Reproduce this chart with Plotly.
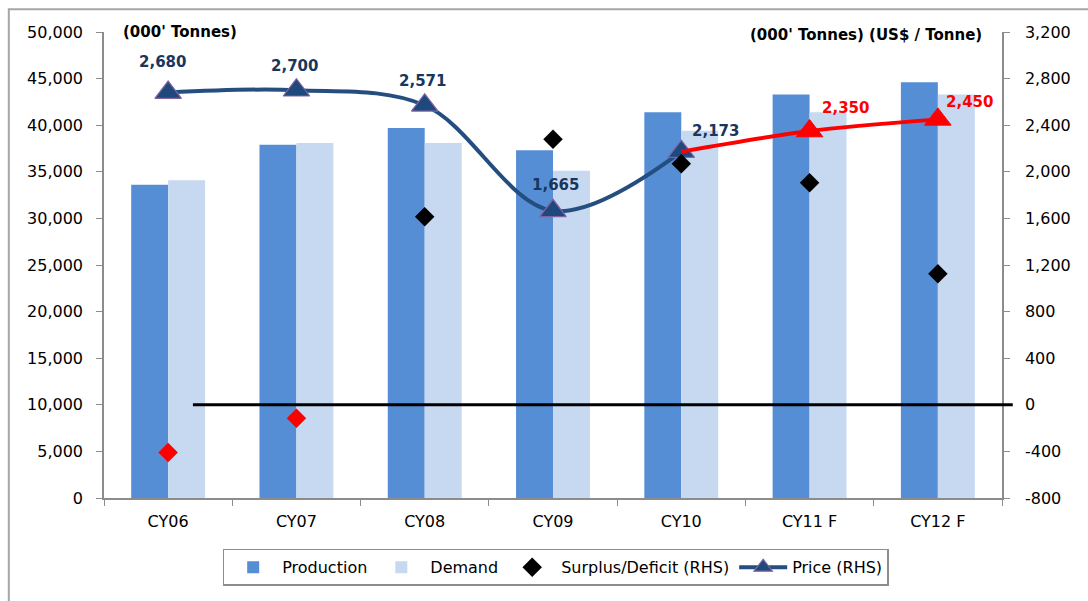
import plotly.graph_objects as go

categories = ["CY06", "CY07", "CY08", "CY09", "CY10", "CY11 F", "CY12 F"]
production = [33600, 37900, 39700, 37300, 41400, 43300, 44600]
demand = [34100, 38100, 38100, 35100, 39400, 41400, 43300]
surplus = [-410, -115, 1615, 2280, 2070, 1905, 1125]
price = [2680, 2700, 2571, 1665, 2173, 2350, 2450]
n_actual = 5  # CY06..CY10 actual prices, rest forecast
right_ticks = [-800, -400, 0, 400, 800, 1200, 1600, 2000, 2400, 2800, 3200]
right_tick_labels = ["-800", "-400", "0", "400", "800", "1,200", "1,600", "2,000", "2,400", "2,800", "3,200"]

FONT = "DejaVu Sans"
BLUE_LINE = "#244D80"
LABEL_BLUE = "#17375E"
RED = "#FF0000"

fig = go.Figure()

fig.add_trace(go.Bar(x=categories, y=production, name="Production",
                     marker=dict(color="#558ED5", line=dict(width=0)), legendrank=1))
fig.add_trace(go.Bar(x=categories, y=demand, name="Demand",
                     marker=dict(color="#C6D9F1", line=dict(width=0)), legendrank=2))

# price line: actual (blue) and forecast (red)
fig.add_trace(go.Scatter(
    x=categories[:n_actual], y=price[:n_actual], yaxis="y2", name="Price (RHS)",
    mode="lines+markers", line=dict(color=BLUE_LINE, width=4, shape="spline", smoothing=1.0),
    marker=dict(symbol="triangle-up", size=23, color="#1F497D", line=dict(color="#8064A2", width=1.2)),
    legendrank=4))
fig.add_trace(go.Scatter(
    x=categories[n_actual - 1:], y=price[n_actual - 1:], yaxis="y2", showlegend=False,
    mode="lines", line=dict(color=RED, width=4, shape="spline", smoothing=0.8)))
fig.add_trace(go.Scatter(
    x=categories[n_actual:], y=price[n_actual:], yaxis="y2", showlegend=False,
    mode="markers", marker=dict(symbol="triangle-up", size=23, color=RED, line=dict(color=RED, width=1))))

# surplus / deficit diamonds
pos_x = [c for c, v in zip(categories, surplus) if v >= 0]
pos_y = [v for v in surplus if v >= 0]
neg_x = [c for c, v in zip(categories, surplus) if v < 0]
neg_y = [v for v in surplus if v < 0]
fig.add_trace(go.Scatter(x=pos_x, y=pos_y, yaxis="y2", mode="markers", name="Surplus/Deficit (RHS)",
                         marker=dict(symbol="diamond", size=15, color="black"), legendrank=3))
fig.add_trace(go.Scatter(x=neg_x, y=neg_y, yaxis="y2", mode="markers", showlegend=False,
                         marker=dict(symbol="diamond", size=15, color=RED)))

# price data labels
label_offsets = [(-6, 31), (-2, 24), (-2, 24), (2, 26), (34, 21), (36, 23), (32, 17)]
annotations = []
for i, (c, p) in enumerate(zip(categories, price)):
    dx, dy = label_offsets[i]
    annotations.append(dict(
        x=c, y=p, xref="x", yref="y2", text=f"{p:,}", showarrow=False,
        xshift=dx, yshift=dy,
        font=dict(family=FONT, size=15, color=LABEL_BLUE if i < n_actual else RED, weight="bold")))

annotations.append(dict(x=0.019, y=1.0, xref="paper", yref="paper", xanchor="left", yanchor="middle",
                        text="<b>(000' Tonnes)</b>", showarrow=False,
                        font=dict(family=FONT, size=15, color="black")))
annotations.append(dict(x=0.98, y=0.994, xref="paper", yref="paper", xanchor="right", yanchor="middle",
                        text="<b>(000' Tonnes) (US$ / Tonne)</b>", showarrow=False,
                        font=dict(family=FONT, size=15, color="black")))

shapes = [
    # zero line for surplus/deficit
    dict(type="line", xref="paper", yref="y2", x0=0.099, x1=1.012, y0=0, y1=0,
         line=dict(color="black", width=3), layer="above"),
    # outer chart border
    dict(type="rect", xref="paper", yref="paper", x0=-0.106, x1=1.12, y0=-0.24, y1=1.049,
         line=dict(color="#A6A6A6", width=2), layer="below"),
]

axis_common = dict(showline=True, linecolor="#8C8C8C", linewidth=1.5, ticks="outside",
                   tickcolor="#8C8C8C", ticklen=6, showgrid=False, zeroline=False,
                   tickfont=dict(family=FONT, size=16, color="black"))

fig.update_layout(
    width=1088, height=601,
    margin=dict(l=104, r=86, t=32, b=103),
    paper_bgcolor="white", plot_bgcolor="white",
    barmode="group", bargap=0.424, bargroupgap=0,
    showlegend=True,
    legend=dict(orientation="h", x=0.503, xanchor="center", y=-0.109, yanchor="top",
                bordercolor="#8C8C8C", borderwidth=1.5, bgcolor="white",
                font=dict(family=FONT, size=16, color="black"),
                traceorder="normal", itemwidth=48),
    xaxis=dict(type="category", range=[-0.5, 6.5], tickson="boundaries", ticklabelstandoff=8,
               **axis_common),
    yaxis=dict(range=[0, 50000], dtick=5000, tickformat=",", ticklabelstandoff=10, **axis_common),
    yaxis2=dict(range=[-800, 3200], tickvals=right_ticks, ticktext=right_tick_labels,
                overlaying="y", side="right", ticklabelstandoff=12, **axis_common),
    annotations=annotations,
    shapes=shapes,
    font=dict(family=FONT),
)

fig.write_html("out.html")
